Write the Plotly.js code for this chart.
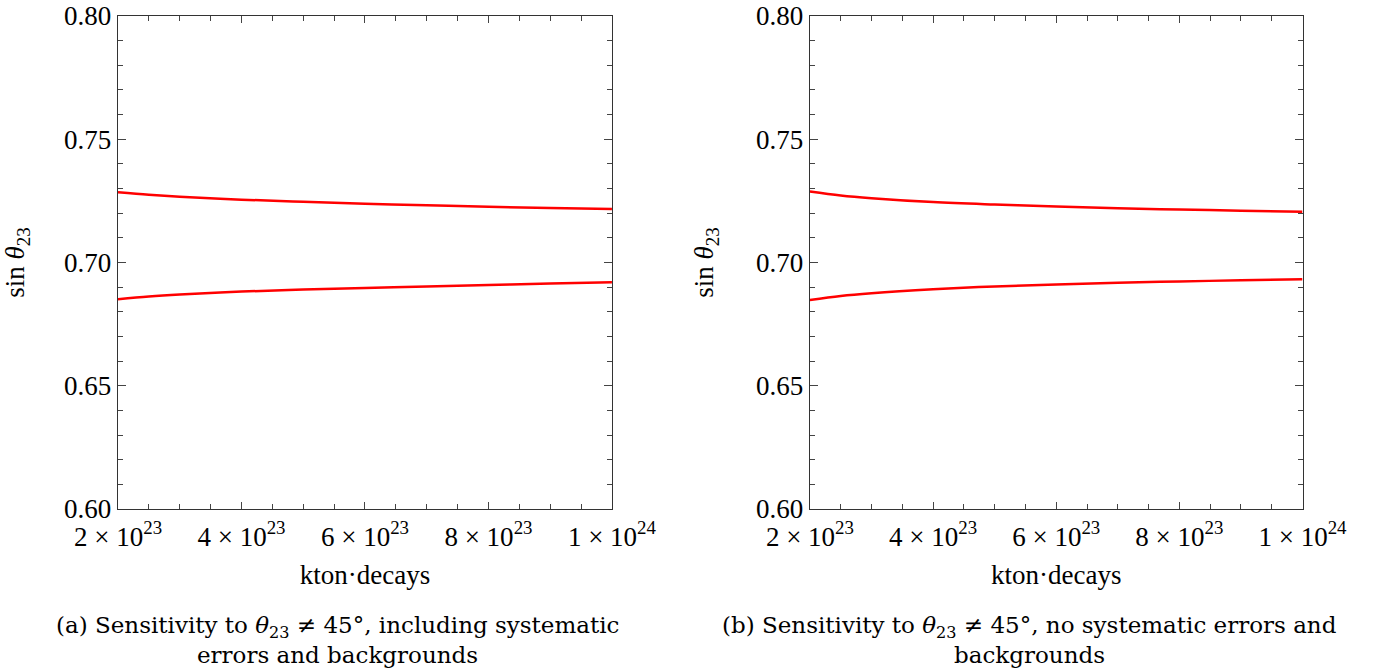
<!DOCTYPE html>
<html><head><meta charset="utf-8">
<script src="https://cdn.plot.ly/plotly-3.0.1.min.js"></script>
<style>html,body{margin:0;padding:0;background:#fff}#plot{width:1377px;height:670px}</style>
</head><body><div id="plot"></div>
<script>
// exposure (kton·decays)
const exposure = [2e23, 2.5e23, 3e23, 4e23, 5e23, 6e23, 7e23, 8e23, 9e23, 1e24];
// (a) including systematic errors and backgrounds
const upperA = [0.7285, 0.7275, 0.7267, 0.7255, 0.7246, 0.7238, 0.7232, 0.7226, 0.7221, 0.7217];
const lowerA = [0.6851, 0.6862, 0.6870, 0.6882, 0.6890, 0.6897, 0.6903, 0.6909, 0.6915, 0.6920];
// (b) no systematic errors and backgrounds
const upperB = [0.7288, 0.7272, 0.7261, 0.7245, 0.7235, 0.7227, 0.7220, 0.7215, 0.7210, 0.7206];
const lowerB = [0.6848, 0.6864, 0.6875, 0.6891, 0.6903, 0.6911, 0.6918, 0.6923, 0.6928, 0.6932];
const xTickVals = [2e23, 4e23, 6e23, 8e23, 1e24];
const xTickText = ['2 × 10<sup>23</sup>', '4 × 10<sup>23</sup>', '6 × 10<sup>23</sup>', '8 × 10<sup>23</sup>', '1 × 10<sup>24</sup>'];
const yTickVals = [0.60, 0.65, 0.70, 0.75, 0.80];
const yTickText = ['0.60', '0.65', '0.70', '0.75', '0.80'];
const captionA = ['(a) Sensitivity to <i>θ</i><sub>23</sub> ≠ 45°, including systematic', 'errors and backgrounds'];
const captionB = ['(b) Sensitivity to <i>θ</i><sub>23</sub> ≠ 45°, no systematic errors and', 'backgrounds'];
const xTitle = 'kton·decays';
const yTitle = 'sin <i>θ</i><sub>23</sub>';

const font = "'Liberation Serif', 'Times New Roman', serif";
const capFont = {family: "'DejaVu Serif', serif", size: 23, color: '#000'};
const line = {color: '#ff0000', width: 2.5, shape: 'spline'};
const traces = [
  {x: exposure, y: upperA, xaxis: 'x', yaxis: 'y', mode: 'lines', line: line},
  {x: exposure, y: lowerA, xaxis: 'x', yaxis: 'y', mode: 'lines', line: line},
  {x: exposure, y: upperB, xaxis: 'x2', yaxis: 'y2', mode: 'lines', line: line},
  {x: exposure, y: lowerB, xaxis: 'x2', yaxis: 'y2', mode: 'lines', line: line}
];
function xax(dom, anchor) {
  return {domain: dom, anchor: anchor, range: [2e23, 1e24], tickmode: 'array', tickvals: xTickVals, ticktext: xTickText,
    ticks: 'inside', ticklen: 7, tickwidth: 1, tickcolor: '#444', showline: true, linecolor: '#333', linewidth: 1.3, mirror: 'ticks',
    showgrid: false, zeroline: false, tickfont: {family: font, size: 27, color: '#000'}, ticklabelstandoff: 3,
    minor: {tickmode: 'linear', tick0: 2e23, dtick: 0.5e23, ticks: 'inside', ticklen: 5, tickcolor: '#444', showgrid: false},
    title: {text: xTitle, font: {family: font, size: 27, color: '#000'}, standoff: 14}};
}
function yax(anchor) {
  return {domain: [0.2403, 0.9761], anchor: anchor, range: [0.60, 0.80], tickmode: 'array', tickvals: yTickVals, ticktext: yTickText,
    ticks: 'inside', ticklen: 8, tickwidth: 1, tickcolor: '#444', showline: true, linecolor: '#333', linewidth: 1.3, mirror: 'ticks',
    showgrid: false, zeroline: false, tickfont: {family: font, size: 27, color: '#000'}, ticklabelstandoff: 0,
    minor: {tickmode: 'linear', tick0: 0.60, dtick: 0.01, ticks: 'inside', ticklen: 5, tickcolor: '#444', showgrid: false},
    title: {text: yTitle, font: {family: font, size: 27, color: '#000'}, standoff: 34}};
}
function cap(text, xc, yc) {
  return {text: text, xref: 'paper', yref: 'paper', x: xc / 1377, y: 1 - yc / 670, xanchor: 'center', yanchor: 'middle',
    showarrow: false, align: 'center', font: capFont};
}
const layout = {
  width: 1377, height: 670, margin: {l: 0, r: 0, t: 0, b: 0}, showlegend: false,
  paper_bgcolor: '#fff', plot_bgcolor: '#fff',
  xaxis: xax([0.0857, 0.4444], 'y'), yaxis: yax('x'),
  xaxis2: xax([0.5882, 0.9459], 'y2'), yaxis2: yax('x2'),
  annotations: [
    cap(captionA[0], 337, 627), cap(captionA[1], 337, 655),
    cap(captionB[0], 1029, 627), cap(captionB[1], 1029, 655)
  ]
};
Plotly.newPlot('plot', traces, layout, {displayModeBar: false, staticPlot: true});
</script></body></html>
